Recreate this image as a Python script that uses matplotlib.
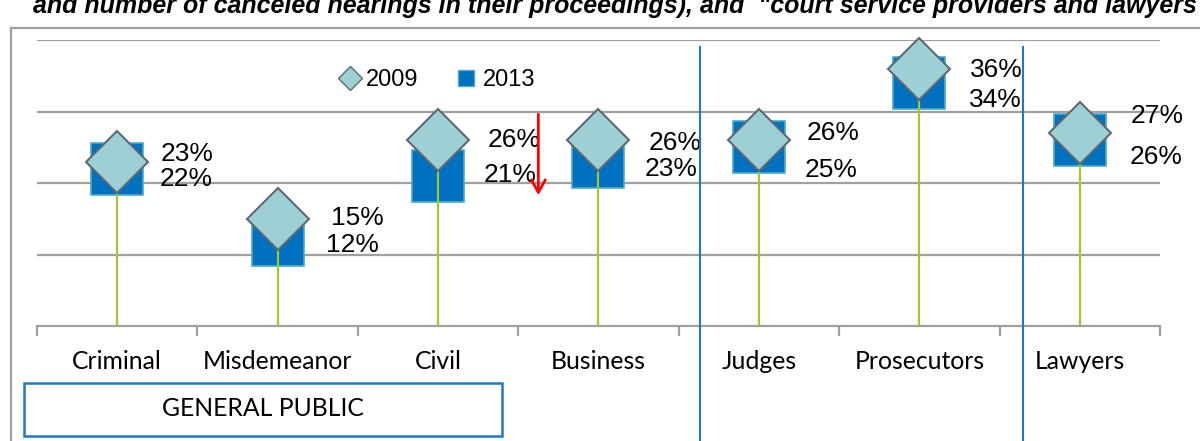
import matplotlib
matplotlib.use('Agg')
import matplotlib.pyplot as plt
from matplotlib.lines import Line2D
from matplotlib.patches import Rectangle

categories = ['Criminal', 'Misdemeanor', 'Civil', 'Business', 'Judges', 'Prosecutors', 'Lawyers']
y2009 = [23, 15, 26, 26, 26, 36, 27]
y2013 = [22, 12, 21, 23, 25, 34, 26]
lab2009 = ['23%', '15%', '26%', '26%', '26%', '36%', '27%']
lab2013 = ['22%', '12%', '21%', '23%', '25%', '34%', '26%']

# label offsets in pixels (dx, dy) from the point
off2009 = [(43, 8), (53, 1), (50, 0), (50, -3), (48, 7), (51, -1), (51, 17)]
off2013 = [(42, -10), (48, -5), (46, 1), (46, -7), (46, -23), (50, -17), (50, -17)]

DIAMOND = '#9DD0D4'
DIAM_EDGE = '#5D6A73'
SQUARE = '#0070C0'
SQ_EDGE = '#4BACC6'
STEM = '#9BCB2F'
GRID = '#A0A0A0'
SEP = '#1F78C8'

W, H = 1200, 441
fig = plt.figure(figsize=(W / 100, H / 100), dpi=100)
ax = fig.add_axes([37 / W, (H - 326) / H, (1160 - 37) / W, (326 - 40) / H])

x = list(range(len(categories)))
ax.set_xlim(-0.5, len(categories) - 0.5)
ax.set_ylim(0, 40)

for g in [10, 20, 30, 40]:
    ax.axhline(g, color=GRID, lw=1.6, zorder=1)

ax.plot(x, y2013, linestyle='none', marker='s', ms=38, mfc=SQUARE, mec=SQ_EDGE,
        mew=1.2, zorder=3, clip_on=False)
ax.vlines(x, 0, y2009, color=STEM, lw=1.6, zorder=4)
ax.plot(x, y2009, linestyle='none', marker='D', ms=32, mfc=DIAMOND, mec=DIAM_EDGE,
        mew=1.5, zorder=5, clip_on=False)

for i in x:
    ax.annotate(lab2009[i], (i, y2009[i]), xytext=(off2009[i][0] * 0.72, off2009[i][1] * 0.72),
                textcoords='offset points', ha='left', va='center',
                fontsize=19, family='Liberation Sans', zorder=6)
    ax.annotate(lab2013[i], (i, y2013[i]), xytext=(off2013[i][0] * 0.72, off2013[i][1] * 0.72),
                textcoords='offset points', ha='left', va='center',
                fontsize=19, family='Liberation Sans', zorder=6)

# red arrow
ax.annotate('', xy=(2.625, 17.9), xytext=(2.625, 30),
            arrowprops=dict(arrowstyle='->,head_length=0.9,head_width=0.5',
                            color='#FF0000', lw=2), zorder=7)

# axis
for s in ['top', 'right', 'left']:
    ax.spines[s].set_visible(False)
ax.spines['bottom'].set_color(GRID)
ax.spines['bottom'].set_linewidth(1.6)
ax.set_yticks([])
ax.set_xticks([i - 0.5 for i in range(len(categories) + 1)])
ax.set_xticklabels([])
ax.tick_params(axis='x', direction='out', length=7, width=1.6, color=GRID)
for i, c in enumerate(categories):
    ax.text(i, -5, c, ha='center', va='center', fontsize=17.8, family='Lato',
            color='black')

# legend
handles = [Line2D([], [], linestyle='none', marker='D', ms=12, mfc=DIAMOND, mec=DIAM_EDGE, mew=1),
           Line2D([], [], linestyle='none', marker='s', ms=12, mfc=SQUARE, mec=SQ_EDGE, mew=1)]
leg = ax.legend(handles, ['2009', '2013'], ncol=2, frameon=False, loc='center left',
                bbox_to_anchor=(319 / W, (H - 80) / H), bbox_transform=fig.transFigure,
                prop={'family': 'Liberation Sans', 'size': 17},
                handlelength=0.8, handletextpad=0.3, columnspacing=1.6)

# separators
for sx in [700, 1023]:
    fig.add_artist(Line2D([sx / W, sx / W], [0, (H - 47) / H], color=SEP, lw=1.5))

# outer border
fig.add_artist(Line2D([11 / W, 11 / W], [0, (H - 28) / H], color=GRID, lw=1.6))
fig.add_artist(Line2D([11 / W, 1], [(H - 28) / H, (H - 28) / H], color=GRID, lw=1.6))

# GENERAL PUBLIC box
fig.add_artist(Rectangle((24 / W, (H - 436) / H), (502 - 24) / W, (436 - 383) / H,
                         transform=fig.transFigure, fill=False, edgecolor=SEP, lw=1.8))
fig.text(263 / W, (H - 409) / H, 'GENERAL PUBLIC', ha='center', va='center',
         fontsize=17.8, family='Lato')

# clipped title
fig.text(33 / W, 1 - 13 / H,
         'and number of canceled hearings in their proceedings), and  "court service providers and lawyers',
         ha='left', va='baseline', fontsize=18, family='Liberation Sans',
         fontweight='bold', style='italic')

fig.savefig('out.png', dpi=100, facecolor='white')
